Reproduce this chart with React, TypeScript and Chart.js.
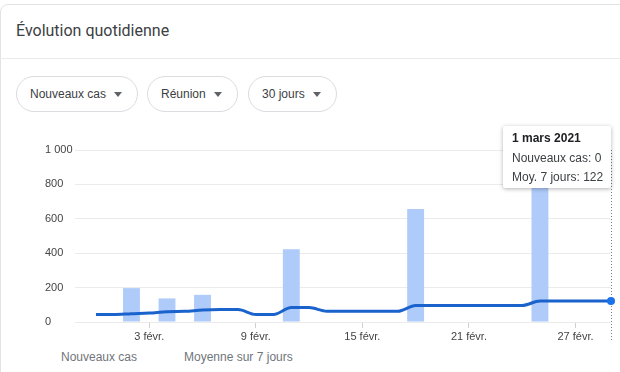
import React, { useEffect, useRef } from "react";
import { Chart, registerables } from "chart.js";

Chart.register(...registerables);

// ---- Data ----
const DATES = [
  "31 janv.", "1 févr.", "2 févr.", "3 févr.", "4 févr.", "5 févr.", "6 févr.", "7 févr.",
  "8 févr.", "9 févr.", "10 févr.", "11 févr.", "12 févr.", "13 févr.", "14 févr.", "15 févr.",
  "16 févr.", "17 févr.", "18 févr.", "19 févr.", "20 févr.", "21 févr.", "22 févr.", "23 févr.",
  "24 févr.", "25 févr.", "26 févr.", "27 févr.", "28 févr.", "1 mars",
];
const NEW_CASES = [
  0, 0, 197, 0, 137, 0, 158, 0, 0, 0, 0, 423, 0, 0, 0, 0, 0, 0, 657, 0, 0, 0, 0, 0, 0, 854, 0, 0, 0, 0,
];
const AVG_7D = [
  43, 43, 48, 52, 60, 62, 70, 72, 72, 44, 44, 84, 84, 62, 62, 62, 62, 62, 96, 96, 96, 96, 96, 96, 96,
  122, 122, 122, 122, 122,
];
const X_TICKS = [3, 9, 15, 21, 27];
const Y_TICKS = [0, 200, 400, 600, 800, 1000];
const FILTERS = ["Nouveaux cas", "Réunion", "30 jours"];
const LEGEND = ["Nouveaux cas", "Moyenne sur 7 jours"];
const TOOLTIP_TITLE = "1 mars 2021";
const TOOLTIP_LINES = ["Nouveaux cas: 0", "Moy. 7 jours: 122"];

const FONT = 'Arial, "Liberation Sans", sans-serif';

const fmt = (v: number) => String(v).replace(/\B(?=(\d{3})+(?!\d))/g, "\u00a0");

const hoverLine = {
  id: "hoverLine",
  beforeDatasetsDraw(chart: any) {
    const x = chart.scales.x.getPixelForValue(DATES.length - 1);
    const ctx = chart.ctx;
    ctx.save();
    ctx.strokeStyle = "#808080";
    ctx.lineWidth = 1;
    ctx.setLineDash([1, 2]);
    ctx.beginPath();
    ctx.moveTo(Math.round(x) + 0.5, chart.chartArea.top);
    ctx.lineTo(Math.round(x) + 0.5, chart.height);
    ctx.stroke();
    ctx.restore();
  },
};

function ChartCanvas() {
  const ref = useRef<HTMLCanvasElement | null>(null);
  useEffect(() => {
    if (!ref.current) return;
    const chart = new Chart(ref.current, {
      type: "bar",
      data: {
        datasets: [
          {
            type: "line",
            label: "Moyenne sur 7 jours",
            data: AVG_7D.map((v, i) => ({ x: i, y: v })),
            borderColor: "#1a62cc",
            backgroundColor: "#1a73e8",
            borderWidth: 3,
            cubicInterpolationMode: "monotone",
            pointRadius: (c: any) => (c.dataIndex === AVG_7D.length - 1 ? 4 : 0),
            pointBackgroundColor: "#1a73e8",
            pointBorderWidth: 0,
            clip: false,
            order: 0,
          } as any,
          {
            type: "bar",
            label: "Nouveaux cas",
            data: NEW_CASES.map((v, i) => ({ x: i, y: v })),
            backgroundColor: "#aecbfa",
            borderWidth: 0,
            barPercentage: 1,
            categoryPercentage: 0.95,
            order: 1,
          } as any,
        ],
      },
      options: {
        animation: false,
        responsive: false,
        layout: { padding: { left: 45, right: 9, top: 20, bottom: 0 } },
        plugins: { legend: { display: false }, tooltip: { enabled: false } },
        scales: {
          x: {
            type: "linear",
            offset: false,
            min: -1.18,
            max: 29,
            afterBuildTicks: (s: any) => {
              s.ticks = X_TICKS.map((v) => ({ value: v }));
            },
            afterFit: (s: any) => {
              s.height = 20;
            },
            ticks: {
              autoSkip: false,
              maxRotation: 0,
              padding: 2,
              color: "#444",
              font: { family: FONT, size: 11 },
              callback: (v: any) => DATES[v as number],
            },
            grid: {
              offset: false,
              drawOnChartArea: false,
              drawTicks: true,
              tickLength: 6,
              color: "#d0d0d0",
            },
            border: { display: false },
          },
          y: {
            min: 0,
            max: 1000,
            afterBuildTicks: (s: any) => {
              s.ticks = Y_TICKS.map((v) => ({ value: v }));
            },
            afterFit: (s: any) => {
              s.width = 30;
            },
            ticks: {
              crossAlign: "far",
              color: "#444",
              font: { family: FONT, size: 11 },
              callback: (v: any) => fmt(v as number),
            },
            grid: { color: "#ebebeb", drawTicks: false },
            border: { display: false },
          },
        },
      } as any,
      plugins: [hoverLine],
    });
    return () => chart.destroy();
  }, []);
  return (
    <canvas
      ref={ref}
      width={620}
      height={212}
      style={{ position: "absolute", left: 0, top: 130, width: 620, height: 212 }}
    />
  );
}

export default function App() {
  const pillLefts = [16, 147, 248];
  return (
    <div
      style={{
        position: "absolute",
        left: 0,
        top: 0,
        width: 620,
        height: 372,
        overflow: "hidden",
        background: "#fff",
        fontFamily: FONT,
      }}
    >
      <div
        style={{
          position: "absolute",
          left: 0,
          top: 4,
          width: 640,
          height: 420,
          border: "1px solid #e3e3e3",
          borderRadius: 8,
          boxSizing: "border-box",
        }}
      />
      <div
        style={{
          position: "absolute",
          left: 0,
          top: 58,
          width: 620,
          height: 1,
          background: "#ebebeb",
        }}
      />
      <div
        style={{
          position: "absolute",
          left: 16,
          top: 21,
          fontFamily: 'Roboto, "Open Sans", sans-serif',
          fontSize: 16,
          lineHeight: "20px",
          color: "#3c4043",
        }}
      >
        Évolution quotidienne
      </div>
      {FILTERS.map((f, i) => (
        <div
          key={f}
          style={{
            position: "absolute",
            left: pillLefts[i],
            top: 76,
            height: 36,
            boxSizing: "border-box",
            border: "1px solid #dadce0",
            borderRadius: 18,
            padding: "0 15px 0 13px",
            display: "flex",
            alignItems: "center",
            fontSize: 12,
            color: "#3c4043",
            whiteSpace: "nowrap",
          }}
        >
          <span>{f}</span>
          <span
            style={{
              display: "inline-block",
              marginLeft: 8,
              width: 0,
              height: 0,
              borderLeft: "4px solid transparent",
              borderRight: "4px solid transparent",
              borderTop: "5px solid #5f6368",
            }}
          />
        </div>
      ))}
      <ChartCanvas />
      {LEGEND.map((l, i) => (
        <div
          key={l}
          style={{
            position: "absolute",
            left: [61, 184][i],
            top: 349,
            fontSize: 12,
            lineHeight: "16px",
            color: "#70757a",
            whiteSpace: "nowrap",
          }}
        >
          {l}
        </div>
      ))}
      <div
        style={{
          position: "absolute",
          left: 503,
          top: 126,
          width: 108,
          height: 62,
          boxSizing: "border-box",
          background: "#fff",
          boxShadow: "0 1px 4px rgba(0,0,0,0.3)",
          borderRadius: 2,
          padding: "3px 0 0 9px",
          fontSize: 12,
          lineHeight: "19.5px",
          color: "#3c4043",
          whiteSpace: "nowrap",
        }}
      >
        <div style={{ fontWeight: "bold", color: "#202124" }}>{TOOLTIP_TITLE}</div>
        {TOOLTIP_LINES.map((t) => (
          <div key={t}>{t}</div>
        ))}
      </div>
    </div>
  );
}
